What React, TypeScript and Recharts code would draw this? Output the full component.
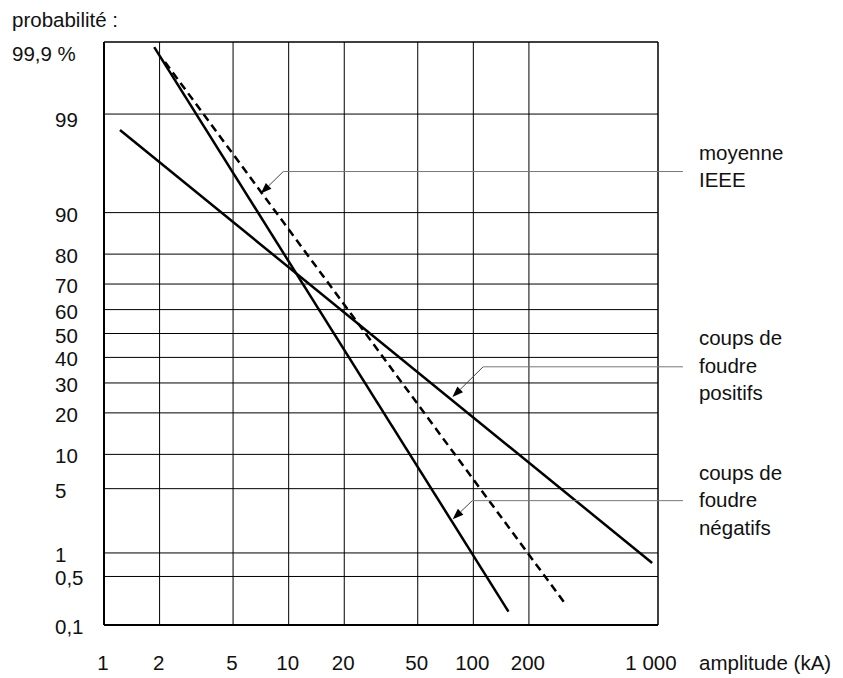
import {
  CartesianGrid,
  Line,
  LineChart,
  ReferenceArea,
  ReferenceLine,
  XAxis,
  YAxis,
} from "recharts";

const FONT = '"Liberation Sans", Arial, Helvetica, sans-serif';
const FS = 20.5;

// abscisse : amplitude (kA), échelle log
const amplitudeTicks = [1, 2, 5, 10, 20, 50, 100, 200, 1000];
const amplitudeLabels = ["1", "2", "5", "10", "20", "50", "100", "200", "1 000"];

// ordonnée : probabilité (%), échelle gaussienne
const probaTicks = [0.1, 0.5, 1, 5, 10, 20, 30, 40, 50, 60, 70, 80, 90, 99, 99.9];
const probaLabels = ["0,1", "0,5", "1", "5", "10", "20", "30", "40", "50", "60", "70", "80", "90", "99", "99,9 %"];

// droites (kA, %)
const negatifs = [
  { ka: 1.87, p: 99.88 },
  { ka: 155, p: 0.16 },
];
const positifs = [
  { ka: 1.22, p: 98.45 },
  { ka: 930, p: 0.75 },
];
const ieee = [
  { ka: 2.14, p: 99.8 },
  { ka: 318, p: 0.2 },
];

// renvois : pointe de flèche, coude, fin près du texte
const ieeeLeader = [
  { ka: 7.06, p: 93.1 },
  { ka: 9.35, p: 95.7 },
  { ka: 1365, p: 95.7 },
];
const positifsLeader = [
  { ka: 77, p: 25 },
  { ka: 113, p: 36.2 },
  { ka: 1365, p: 36.2 },
];
const negatifsLeader = [
  { ka: 77.3, p: 2.44 },
  { ka: 98.7, p: 3.82 },
  { ka: 1365, p: 3.82 },
];
const ieeeText = ["moyenne", "IEEE"];
const positifsText = ["coups de", "foudre", "positifs"];
const negatifsText = ["coups de", "foudre", "négatifs"];

// inverse of the normal CDF (Acklam), input in %
function probit(pct: number) {
  const p = pct / 100;
  const a = [-39.69683028665376, 220.9460984245205, -275.9285104469687, 138.357751867269, -30.66479806614716, 2.506628277459239];
  const b = [-54.47609879822406, 161.5858368580409, -155.6989798598866, 66.80131188771972, -13.28068155288572];
  const c = [-0.007784894002430293, -0.3223964580411365, -2.400758277161838, -2.549671348589669, 4.374664141464968, 2.938163982698783];
  const d = [0.007784695709041462, 0.3224671290700398, 2.445134137142996, 3.754408661907416];
  const pl = 0.02425;
  if (p < pl) {
    const q = Math.sqrt(-2 * Math.log(p));
    return (((((c[0] * q + c[1]) * q + c[2]) * q + c[3]) * q + c[4]) * q + c[5]) /
      ((((d[0] * q + d[1]) * q + d[2]) * q + d[3]) * q + 1);
  }
  if (p > 1 - pl) {
    const q = Math.sqrt(-2 * Math.log(1 - p));
    return -(((((c[0] * q + c[1]) * q + c[2]) * q + c[3]) * q + c[4]) * q + c[5]) /
      ((((d[0] * q + d[1]) * q + d[2]) * q + d[3]) * q + 1);
  }
  const q = p - 0.5;
  const r = q * q;
  return ((((((a[0] * r + a[1]) * r + a[2]) * r + a[3]) * r + a[4]) * r + a[5]) * q) /
    (((((b[0] * r + b[1]) * r + b[2]) * r + b[3]) * r + b[4]) * r + 1);
}

const toZ = (pts: { ka: number; p: number }[]) => pts.map((d) => ({ ka: d.ka, z: probit(d.p) }));

const W = 843;
const H = 678;
const MARGIN = { top: 42, right: 185, bottom: 0, left: 0 };
const Y_AXIS_W = 104;
const X_AXIS_H = 53;
const zTicks = probaTicks.map(probit);
const zMin = zTicks[0];
const zMax = zTicks[zTicks.length - 1];

const textStyle = { fontFamily: FONT, fontSize: FS, fill: "#111" };

function ProbaTick(props: any) {
  const { y, payload } = props;
  const i = zTicks.findIndex((t) => Math.abs(t - payload.value) < 1e-6);
  if (i < 0) return null;
  const v = probaTicks[i];
  const x = v === 99.9 ? 12 : 55;
  const dy = v === 99.9 ? 19 : v === 99 ? 13 : 9;
  return (
    <text x={x} y={y + dy} textAnchor="start" {...textStyle}>
      {probaLabels[i]}
    </text>
  );
}

function AmplitudeTick(props: any) {
  const { x, payload } = props;
  const i = amplitudeTicks.indexOf(payload.value);
  if (i < 0) return null;
  const shift = payload.value === 1000 ? -7 : -1;
  return (
    <text x={x + shift} y={H - X_AXIS_H + 45} textAnchor="middle" {...textStyle}>
      {amplitudeLabels[i]}
    </text>
  );
}

const arrowShape = (props: any) => {
  const { x1, y1, x2, y2 } = props;
  const ang = Math.atan2(y1 - y2, x1 - x2);
  const len = 11;
  const half = 4;
  const bx = x1 - len * Math.cos(ang);
  const by = y1 - len * Math.sin(ang);
  const nx = -Math.sin(ang) * half;
  const ny = Math.cos(ang) * half;
  return (
    <g>
      <line x1={x2} y1={y2} x2={bx} y2={by} stroke="#444" strokeWidth={1} />
      <polygon points={`${x1},${y1} ${bx + nx},${by + ny} ${bx - nx},${by - ny}`} fill="#000" />
    </g>
  );
};

const leaderText = (lines: string[], firstDy: number) => (props: any) => {
  const { x1, y1, x2, y2 } = props;
  return (
    <g>
      <line x1={x1} y1={y1} x2={x2} y2={y2} stroke="#777" strokeWidth={1} />
      {lines.map((t, i) => (
        <text key={t} x={x2 + 16} y={y2 + firstDy + i * 27.5 + 7} {...textStyle}>
          {t}
        </text>
      ))}
    </g>
  );
};

const annotations = [
  { pts: toZ(ieeeLeader), lines: ieeeText, firstDy: -19 },
  { pts: toZ(positifsLeader), lines: positifsText, firstDy: -28.5 },
  { pts: toZ(negatifsLeader), lines: negatifsText, firstDy: -28 },
];

export default function App() {
  return (
    <div style={{ position: "absolute", left: 0, top: 0, width: W, height: H, background: "#fff", fontFamily: FONT }}>
      <LineChart width={W} height={H} margin={MARGIN}>
        <CartesianGrid stroke="#000" strokeWidth={1} />
        <XAxis
          dataKey="ka"
          type="number"
          scale="log"
          domain={[1, 1000]}
          allowDataOverflow
          ticks={amplitudeTicks}
          interval={0}
          height={X_AXIS_H}
          tickLine={false}
          axisLine={{ stroke: "#000", strokeWidth: 2 }}
          tick={<AmplitudeTick />}
          label={(p: any) => {
            const vb = p.viewBox;
            return (
              <text x={vb.x + vb.width + 41} y={vb.y + 45} {...textStyle}>
                amplitude (kA)
              </text>
            );
          }}
        />
        <YAxis
          dataKey="z"
          type="number"
          domain={[zMin, zMax]}
          allowDataOverflow
          ticks={zTicks}
          interval={0}
          width={Y_AXIS_W}
          tickLine={false}
          axisLine={{ stroke: "#000", strokeWidth: 2 }}
          tick={<ProbaTick />}
          label={(p: any) => {
            const vb = p.viewBox;
            return (
              <text x={12} y={vb.y - 15.5} {...textStyle}>
                probabilité :
              </text>
            );
          }}
        />
        <ReferenceArea x1={1} x2={1000} y1={zMin} y2={zMax} fill="none" stroke="#000" strokeWidth={1} />
        <Line
          data={toZ(positifs)}
          dataKey="z"
          type="linear"
          stroke="#000"
          strokeWidth={2.5}
          dot={false}
          isAnimationActive={false}
        />
        <Line
          data={toZ(negatifs)}
          dataKey="z"
          type="linear"
          stroke="#000"
          strokeWidth={2.5}
          dot={false}
          isAnimationActive={false}
        />
        <Line
          data={toZ(ieee)}
          dataKey="z"
          type="linear"
          stroke="#000"
          strokeWidth={2.5}
          strokeDasharray="8 5"
          dot={false}
          isAnimationActive={false}
        />
        {annotations.map((a, i) => (
          <ReferenceLine
            key={`arrow-${i}`}
            segment={[
              { x: a.pts[0].ka, y: a.pts[0].z },
              { x: a.pts[1].ka, y: a.pts[1].z },
            ]}
            ifOverflow="visible"
            shape={arrowShape}
          />
        ))}
        {annotations.map((a, i) => (
          <ReferenceLine
            key={`leader-${i}`}
            segment={[
              { x: a.pts[1].ka, y: a.pts[1].z },
              { x: a.pts[2].ka, y: a.pts[2].z },
            ]}
            ifOverflow="visible"
            shape={leaderText(a.lines, a.firstDy)}
          />
        ))}
      </LineChart>
    </div>
  );
}
